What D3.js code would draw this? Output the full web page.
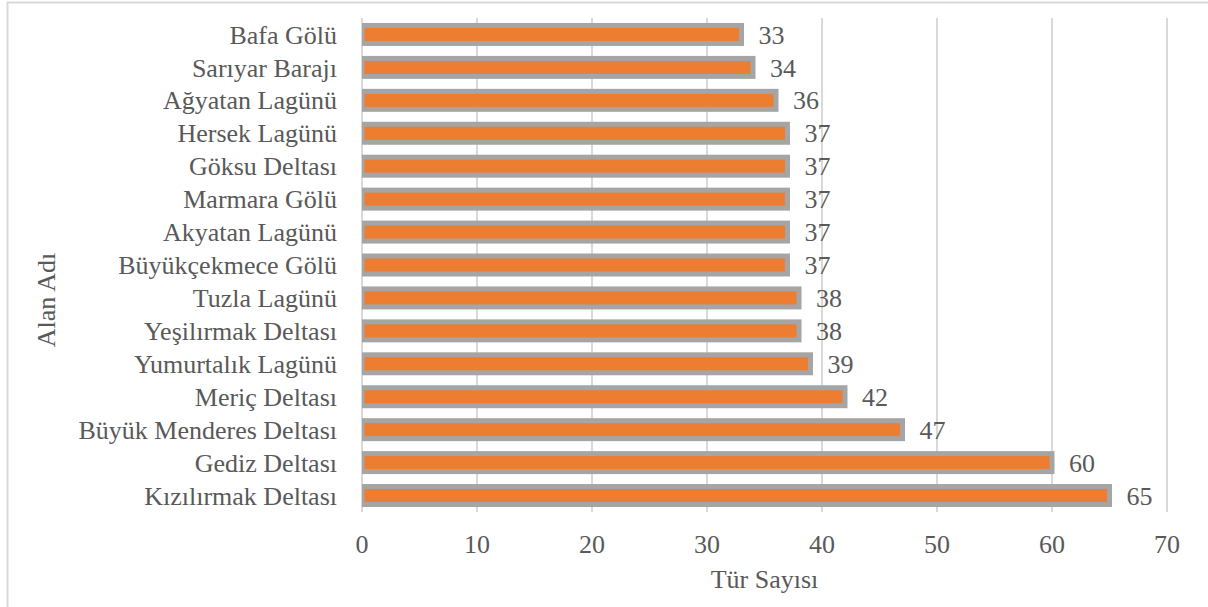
<!DOCTYPE html>
<html>
<head>
<meta charset="utf-8">
<script src="https://cdn.jsdelivr.net/npm/d3@7/dist/d3.min.js"></script>
<style>
  body { margin: 0; background: #fff; }
  text { font-family: "Liberation Serif", "Times New Roman", serif; fill: #595959; }
</style>
</head>
<body>
<div id="chart"></div>
<script>
var width = 1208,
    height = 607,
    margin = {top: 18, bottom: 95, left: 362, right: 41};

var areas = ["Bafa Gölü","Sarıyar Barajı","Ağyatan Lagünü","Hersek Lagünü","Göksu Deltası",
             "Marmara Gölü","Akyatan Lagünü","Büyükçekmece Gölü","Tuzla Lagünü","Yeşilırmak Deltası",
             "Yumurtalık Lagünü","Meriç Deltası","Büyük Menderes Deltası","Gediz Deltası","Kızılırmak Deltası"];
var counts = [33,34,36,37,37,37,37,37,38,38,39,42,47,60,65];
var xTicks = [0,10,20,30,40,50,60,70];

var svg = d3.select('#chart')
    .append('svg')
    .attr('width', width)
    .attr('height', height);

// outer frame
svg.append("rect")
    .attr("x", 7.5).attr("y", 2.5)
    .attr("width", 1240).attr("height", 640)
    .attr("fill", "none")
    .attr("stroke", "#d9d9d9")
    .attr("stroke-width", 2);

var xScale = d3.scaleLinear()
    .domain([0, 70])
    .range([margin.left, width - margin.right]);

var yScale = d3.scaleBand()
    .domain(areas)
    .range([margin.top, height - margin.bottom])
    .paddingInner(15/33)
    .paddingOuter(7.5/33);

// grid
svg.append("g")
    .selectAll("line")
    .data(xTicks)
    .enter().append("line")
    .attr("x1", function(d){ return xScale(d); })
    .attr("x2", function(d){ return xScale(d); })
    .attr("y1", margin.top)
    .attr("y2", height - margin.bottom)
    .attr("stroke", "#d9d9d9")
    .attr("stroke-width", 2);

// bars
var clip = svg.append("clipPath").attr("id", "plotclip")
    .append("rect")
    .attr("x", xScale(0)).attr("y", 0)
    .attr("width", width).attr("height", height);

svg.append("g")
    .attr("clip-path", "url(#plotclip)")
    .selectAll("rect")
    .data(areas)
    .enter().append("rect")
    .attr("x", xScale(0))
    .attr("y", function(d){ return yScale(d); })
    .attr("width", function(d,i){ return xScale(counts[i]) - xScale(0); })
    .attr("height", yScale.bandwidth())
    .attr("fill", "#ed7d31")
    .attr("stroke", "#a5a5a5")
    .attr("stroke-width", 5);

// value labels
svg.append("g")
    .selectAll("text")
    .data(areas)
    .enter().append("text")
    .attr("x", function(d,i){ return xScale(counts[i]) + 17; })
    .attr("y", function(d){ return yScale(d) + yScale.bandwidth()/2; })
    .attr("dy", "0.35em")
    .style("font-size", "26px")
    .text(function(d,i){ return counts[i]; });

// category labels
svg.append("g")
    .selectAll("text")
    .data(areas)
    .enter().append("text")
    .attr("x", xScale(0) - 25)
    .attr("y", function(d){ return yScale(d) + yScale.bandwidth()/2; })
    .attr("dy", "0.35em")
    .attr("text-anchor", "end")
    .style("font-size", "26px")
    .text(function(d){ return d; });

// x tick labels
svg.append("g")
    .selectAll("text")
    .data(xTicks)
    .enter().append("text")
    .attr("x", function(d){ return xScale(d); })
    .attr("y", 553)
    .attr("text-anchor", "middle")
    .style("font-size", "26px")
    .text(function(d){ return d; });

// axis titles
svg.append("text")
    .attr("x", (xScale(0) + xScale(70)) / 2)
    .attr("y", 588)
    .attr("text-anchor", "middle")
    .style("font-size", "26px")
    .text("Tür Sayısı");

svg.append("text")
    .attr("transform", "translate(55,300) rotate(-90)")
    .attr("text-anchor", "middle")
    .style("font-size", "26px")
    .text("Alan Adı");
</script>
</body>
</html>
